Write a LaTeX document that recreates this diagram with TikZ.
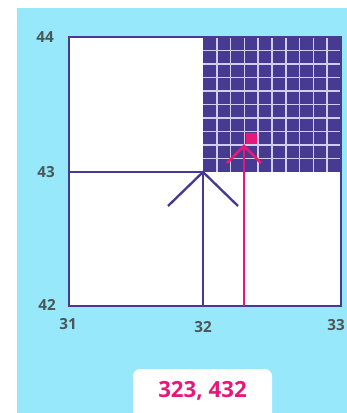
\documentclass[tikz,border=0pt]{standalone}
\usepackage{fontspec}
\setmainfont{Open Sans}
\definecolor{skyc}{HTML}{98E8FC}
\definecolor{gridp}{HTML}{463A93}
\definecolor{gridl}{HTML}{D2CDEC}
\definecolor{hotp}{HTML}{E8177A}
\definecolor{tick}{HTML}{4B5656}
\tikzset{
  frame/.style = {draw=gridp, line width=2.5pt},
  split/.style = {draw=gridp, line width=2pt},
  cell/.style  = {draw=gridl, line width=1.3pt},
  probe/.style = {draw=hotp, line width=2.3pt},
  axlab/.style = {font=\bfseries\fontsize{13}{13}\selectfont, text=tick, inner sep=0},
  readout/.style = {font=\bfseries\fontsize{19}{19}\selectfont, text=hotp, inner sep=0}
}
\begin{document}
\begin{tikzpicture}[x=0.03cm,y=-0.03cm]
  \useasboundingbox (0,0) rectangle (347,413);
  \clip (0,0) rectangle (347,413);
  \fill[white] (0,0) rectangle (347,413);
  \fill[skyc] (17,8) rectangle (347,413);

  % the plot square
  \fill[white] (69,37) rectangle (341,306);
  \fill[gridp] (203,37) rectangle (341,172);
  \foreach \i in {1,...,9} {
    \draw[cell] (203+\i*13.8,37) -- (203+\i*13.8,172);
    \draw[cell] (203,37+\i*13.5) -- (341,37+\i*13.5);
  }
  \fill[hotp] (246,133) rectangle (257,144);
  \draw[frame] (69,37) rectangle (341,306);

  % first step: the half split
  \coordinate (mid) at (203,172);
  \coordinate (midfoot) at (203,306);
  \draw[split] (69,172) -- (mid);
  \draw[split] (midfoot) -- (mid);
  \draw[split] (mid) ++(-35,34) -- (mid) -- ++(35,34);

  % second step: the tenth split
  \coordinate (tip) at (244,146);
  \coordinate (tipfoot) at (244,306);
  \draw[probe] (tipfoot) -- (tip);
  \draw[probe] (tip) ++(-17,17) -- (tip) -- ++(17,17);

  % axis numbers
  \node[axlab] (y44) at (45,37) {44};
  \node[axlab] (y43) at (46,172) {43};
  \node[axlab] (y42) at (47,305) {42};
  \node[axlab] (x31) at (68,324) {31};
  \node[axlab] (x32) at (203,327) {32};
  \node[axlab] (x33) at (336,325) {33};

  % result box
  \fill[white, rounded corners=6] (133,369) rectangle (272,425);
  \node[readout] (res) at (202.5,391) {323, 432};
\end{tikzpicture}
\end{document}
